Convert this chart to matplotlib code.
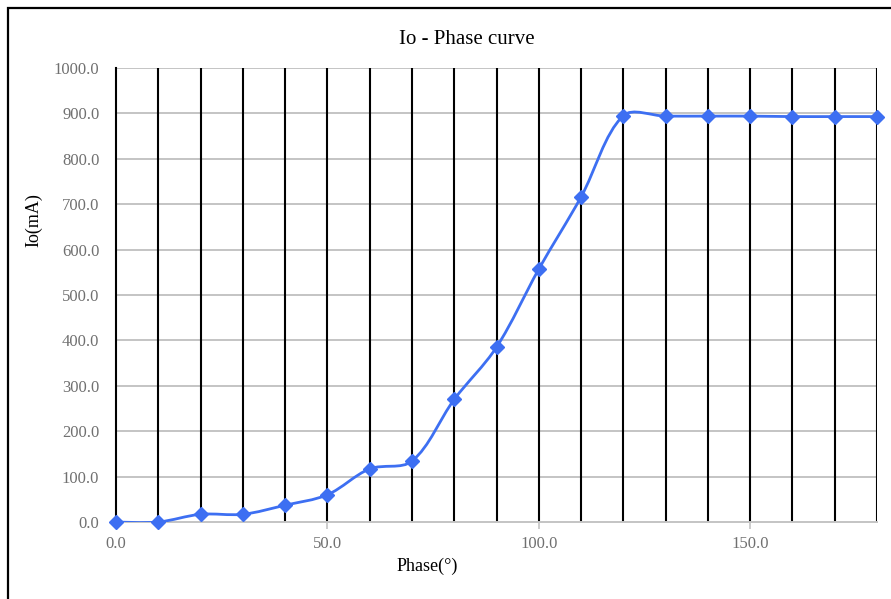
import numpy as np
import matplotlib
matplotlib.use("Agg")
import matplotlib.pyplot as plt
from matplotlib.path import Path
from matplotlib.patches import PathPatch, Rectangle

# data
phase = [0, 10, 20, 30, 40, 50, 60, 70, 80, 90, 100, 110, 120, 130, 140, 150, 160, 170, 180]
io_ma = [0, 0, 17, 17, 37, 60, 117, 134, 270, 385, 557, 716, 895, 894, 894, 894, 893, 893, 893]
xticks = [0, 50, 100, 150]
yticks = [0, 100, 200, 300, 400, 500, 600, 700, 800, 900, 1000]

blue = "#3d6ff2"
serif = ["Liberation Serif", "DejaVu Serif"]

fig = plt.figure(figsize=(8.91, 5.99), dpi=100)
ax = fig.add_axes([116 / 891, 1 - 522 / 599, (877 - 116) / 891, (522 - 68) / 599])

# outer frame (left/top visible, rest runs off the image)
fig.patches.append(Rectangle((8 / 891, -0.05), 1.2, 1 - 8 / 599 + 0.05, transform=fig.transFigure,
                             fill=False, edgecolor="black", linewidth=1.6))

ax.set_xlim(0, 180)
ax.set_ylim(0, 1000)

# horizontal gray grid, black vertical lines every 10 deg
for y in yticks[1:]:
    ax.axhline(y, color="#c4c4c4", linewidth=1.4, zorder=1)
for x in phase[1:]:
    ax.axvline(x, color="black", linewidth=1.5, zorder=2)

# smooth line: bezier through the points, tangents weighted by segment length
xs = np.array(phase, dtype=float)
ys = np.array(io_ma, dtype=float)
pts = np.column_stack([xs, ys])
scale = np.array([761 / 180, 454 / 1000])  # data -> approx pixels, for segment lengths
n = len(pts)
seg = [np.hypot(*((pts[i + 1] - pts[i]) * scale)) for i in range(n - 1)]


def tangent(i):
    if i == 0:
        return (pts[1] - pts[0]) / 2, 0.5, 0.5
    if i == n - 1:
        return (pts[-1] - pts[-2]) / 2, 0.5, 0.5
    d = pts[i + 1] - pts[i - 1]
    a, b = seg[i - 1], seg[i]
    return d, a / (a + b), b / (a + b)


verts = [pts[0]]
codes = [Path.MOVETO]
for i in range(n - 1):
    d1, _, w1 = tangent(i)
    d2, w2, _ = tangent(i + 1)
    c1 = pts[i] + d1 * w1 / 3
    c2 = pts[i + 1] - d2 * w2 / 3
    verts += [c1, c2, pts[i + 1]]
    codes += [Path.CURVE4] * 3
ax.add_patch(PathPatch(Path(verts, codes), facecolor="none", edgecolor=blue,
                       linewidth=2, zorder=3))
ax.plot(phase, io_ma, linestyle="none", marker="D", markersize=7, color=blue,
        zorder=4, clip_on=False)

for s in ["top", "right"]:
    ax.spines[s].set_visible(False)
ax.spines["left"].set_color("black")
ax.spines["left"].set_linewidth(1.5)
ax.spines["bottom"].set_color("#c4c4c4")
ax.spines["bottom"].set_linewidth(1.4)

ax.set_xticks(xticks)
ax.set_xticklabels(["%.1f" % v for v in xticks])
ax.set_yticks(yticks)
ax.set_yticklabels(["%.1f" % v for v in yticks])
ax.tick_params(axis="x", length=5, color="#c4c4c4", width=1.2, labelcolor="#707070",
               labelsize=12, pad=5)
ax.tick_params(axis="y", length=0, labelcolor="#707070", labelsize=12, pad=12)
for lab in ax.get_xticklabels() + ax.get_yticklabels():
    lab.set_family(serif)

fig.text(467 / 891, 1 - 40 / 599, "Io - Phase curve", ha="center", va="center",
         fontsize=15, family=serif)
fig.text(427 / 891, 1 - 566 / 599, "Phase(°)", ha="center", va="center",
         fontsize=13, family=serif)
fig.text(34 / 891, 1 - 220 / 599, "Io(mA)", ha="center", va="center",
         fontsize=13, rotation=90, family=serif)

fig.savefig("out.png", dpi=100)
